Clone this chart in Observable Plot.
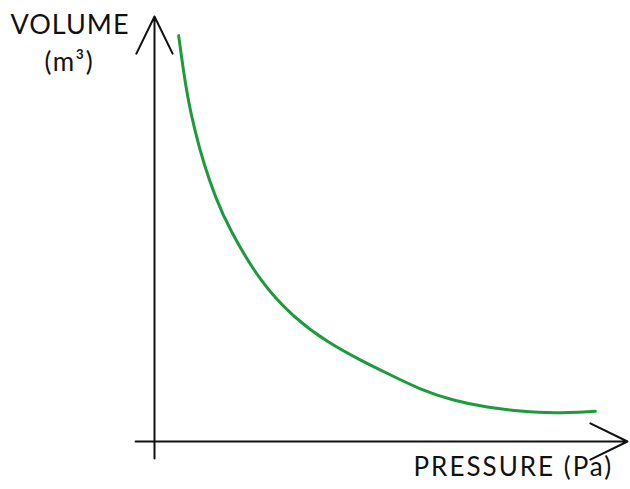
<!DOCTYPE html>
<html>
<head>
<meta charset="utf-8">
<script src="https://cdn.jsdelivr.net/npm/d3@7"></script>
<script src="https://cdn.jsdelivr.net/npm/@observablehq/plot@0.6"></script>
<style>
  html, body { margin: 0; padding: 0; background: #fff; }
  #chart { width: 630px; height: 489px; }
  svg { font-family: Lato, "Open Sans", sans-serif; }
</style>
</head>
<body>
<div id="chart"></div>
<script>
// Arbitrary units (no ticks on the original)
const pressure = [0.51, 0.59, 0.70, 0.85, 1.04, 1.29, 1.56, 2.24, 2.94, 3.66, 4.36, 4.93, 5.62, 6.32, 7.04, 7.74, 8.43, 9.32];
const volume   = [9.55, 8.89, 8.09, 7.32, 6.54, 5.74, 5.04, 3.74, 2.92, 2.33, 1.91, 1.60, 1.22, 0.96, 0.80, 0.71, 0.66, 0.71];
const xLabel = "PRESSURE (Pa)";
const yLabel = "VOLUME";
const yUnit = "(m³)";
const axisMin = -0.4;
const axisMax = 10;

const curve = pressure.map((p, i) => ({p, v: volume[i]}));
const axes = [
  {x1: 0, y1: axisMin, x2: 0, y2: axisMax},
  {x1: axisMin, y1: 0, x2: axisMax, y2: 0}
];

const chart = Plot.plot({
  width: 630,
  height: 489,
  marginLeft: 154,
  marginRight: 3,
  marginTop: 16,
  marginBottom: 48,
  x: {domain: [0, 10], axis: null},
  y: {domain: [0, 10], axis: null},
  marks: [
    Plot.arrow(axes, {
      x1: "x1", y1: "y1", x2: "x2", y2: "y2",
      stroke: "#111", strokeWidth: 2, headLength: 31, headAngle: 52, clip: false
    }),
    Plot.line(curve, {
      x: "p", y: "v", curve: "basis",
      stroke: "#1c9a3c", strokeWidth: 3
    }),
    Plot.text([yLabel], {
      frameAnchor: "top-left", dx: -144, dy: -2, textAnchor: "start",
      fontSize: 27, fill: "#111", text: d => d
    }),
    Plot.text([yUnit], {
      frameAnchor: "top-left", dx: -110, dy: 36, textAnchor: "start",
      fontSize: 26, fill: "#111", text: d => d
    }),
    Plot.text([xLabel], {
      frameAnchor: "bottom-right", dx: -214, dy: 34, textAnchor: "start",
      fontSize: 26, fill: "#111", text: d => d
    })
  ]
});
d3.select(chart).selectAll("text").each(function() {
  const t = this.textContent;
  if (t === xLabel) this.style.letterSpacing = "2px";
  else if (t === yLabel) this.style.letterSpacing = "1px";
  else if (t === yUnit) this.style.letterSpacing = "1.5px";
});
document.getElementById("chart").appendChild(chart);
</script>
</body>
</html>
